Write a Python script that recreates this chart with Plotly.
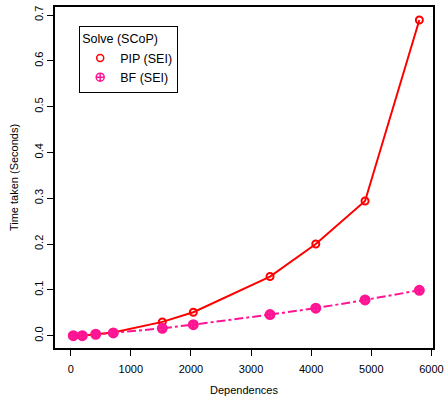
import plotly.graph_objects as go

deps = [43, 193, 416, 709, 1524, 2040, 3316, 4077, 4897, 5800]
pip_sei = [0.000, 0.000, 0.003, 0.007, 0.030, 0.051, 0.129, 0.200, 0.294, 0.689]
bf_sei = [0.000, 0.000, 0.003, 0.006, 0.016, 0.024, 0.046, 0.060, 0.078, 0.099]

x_ticks = [0, 1000, 2000, 3000, 4000, 5000, 6000]
y_ticks = [0.0, 0.1, 0.2, 0.3, 0.4, 0.5, 0.6, 0.7]
y_ticktext = ["0.0", "0.1", "0.2", "0.3", "0.4", "0.5", "0.6", "0.7"]

RED = "#FF0000"
PINK = "#FF1493"

fig = go.Figure()
fig.add_trace(go.Scatter(
    x=deps, y=pip_sei, name="PIP (SEI)", mode="lines+markers", showlegend=False,
    line=dict(color=RED, width=2),
    marker=dict(symbol="circle-open", size=7, color=RED, line=dict(width=2, color=RED)),
))
fig.add_trace(go.Scatter(
    x=deps, y=bf_sei, name="BF (SEI)", mode="lines+markers", showlegend=False,
    line=dict(color=PINK, width=2, dash="dashdot"),
    marker=dict(symbol="circle-cross-open", size=8, color=PINK, line=dict(width=3, color=PINK)),
))
# legend entries (markers only, as in the reference)
fig.add_trace(go.Scatter(
    x=[None], y=[None], name="PIP (SEI)", mode="markers",
    marker=dict(symbol="circle-open", size=7, color=RED, line=dict(width=1.5, color=RED)),
))
fig.add_trace(go.Scatter(
    x=[None], y=[None], name="BF (SEI)", mode="markers",
    marker=dict(symbol="circle-cross-open", size=8, color=PINK, line=dict(width=1.5, color=PINK)),
))

font = "Liberation Sans, Arial, sans-serif"
fig.update_layout(
    width=444, height=396,
    margin=dict(l=55, r=11, t=7, b=48),
    paper_bgcolor="white", plot_bgcolor="white",
    font=dict(family=font, size=11, color="black"),
    showlegend=True,
    legend=dict(
        x=0.064, y=0.944, xanchor="left", yanchor="top",
        bordercolor="black", borderwidth=1, bgcolor="white",
        title=dict(text="Solve (SCoP)", font=dict(size=12.5)),
        font=dict(size=12.5), tracegroupgap=0, itemwidth=30,
    ),
    xaxis=dict(
        range=[-261, 6027], tickvals=x_ticks, ticks="outside", ticklen=6,
        tickcolor="black", showline=True, linecolor="black", linewidth=1.5,
        mirror=True, showgrid=False, zeroline=False, automargin=False,
        title=dict(text="Dependences", font=dict(size=11), standoff=14),
        ticklabelstandoff=4,
    ),
    yaxis=dict(
        range=[-0.027, 0.7175], tickvals=y_ticks, ticktext=y_ticktext,
        ticks="outside", ticklen=6, tickangle=-90,
        tickcolor="black", showline=True, linecolor="black", linewidth=1.5,
        mirror=True, showgrid=False, zeroline=False, automargin=False,
        title=dict(text="Time taken (Seconds)", font=dict(size=11), standoff=12),
    ),
)

fig.write_html("out.html", post_script="document.body.style.margin='0';",
               config={"displayModeBar": False})
